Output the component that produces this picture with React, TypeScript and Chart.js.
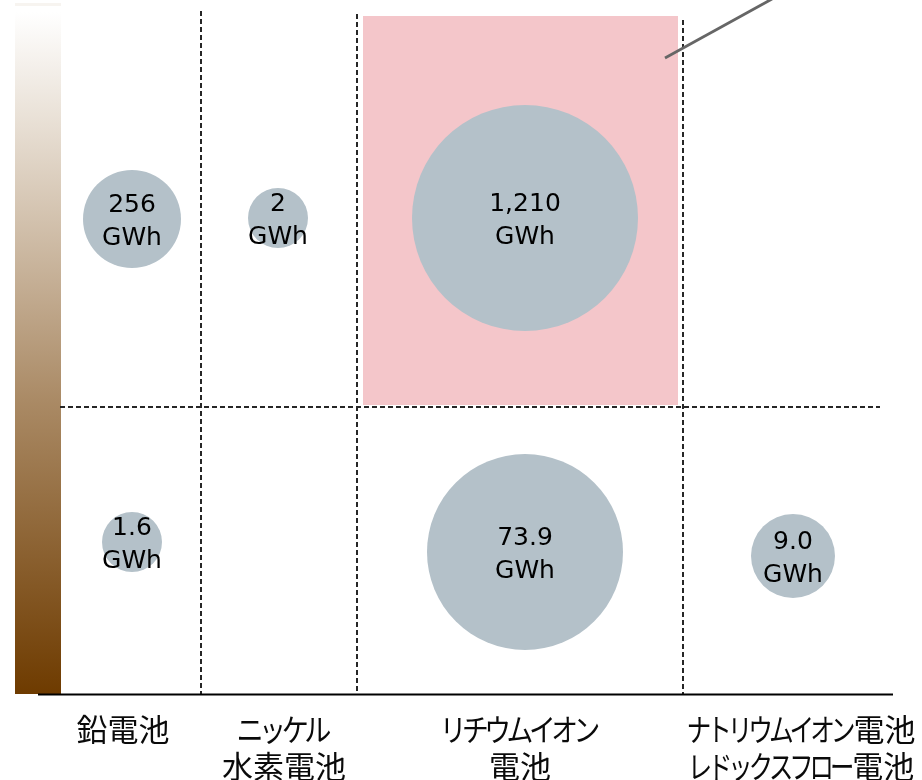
import React, { useEffect, useRef } from "react";
import { Chart, registerables } from "chart.js";

Chart.register(...registerables);

// ---- data ----
const categories: string[][] = [
  ["鉛電池"],
  ["ニッケル", "水素電池"],
  ["リチウムイオン", "電池"],
  ["ナトリウムイオン電池", "レドックスフロー電池"],
];
const upperValues: (number | null)[] = [256, 2, 1210, null];
const upperLabels: (string | null)[] = ["256", "2", "1,210", null];
const lowerValues: (number | null)[] = [1.6, null, 73.9, 9.0];
const lowerLabels: (string | null)[] = ["1.6", null, "73.9", "9.0"];
const unit = "GWh";

// ---- layout (scale units == canvas px) ----
const W = 922;
const H = 780;
const BUBBLE_X = [132, 278, 525, 793];
const UPPER_Y = [219, 218, 218, 218];
const LOWER_Y = [542, 550, 552, 556];
const UPPER_R = [49, 30, 113, 0];
const LOWER_R = [30, 0, 98, 42];
const V_DIVIDERS = [
  { x: 201, y0: 11 },
  { x: 357, y0: 14 },
  { x: 683, y0: 20 },
];
const H_DIVIDER = { y: 407, x0: 60, x1: 880 };
const AXIS = { y: 694.5, x0: 38, x1: 893 };
const BAR = { x0: 15, x1: 61, y0: 12, y1: 694 };
const HIGHLIGHT = { x0: 363, x1: 678, y0: 16, y1: 405 };
const POINTER = { x0: 665, y0: 58, x1: 772, y1: -1 };
const LABEL_X = [123, 284, 520, 802];
const LABEL_Y = [729, 766];
const KANA_FACTOR = [
  [1],
  [0.73, 1],
  [0.72, 1],
  [0.665, 0.655],
];

function drawJP(ctx: CanvasRenderingContext2D, text: string, cx: number, cy: number, size: number, kf: number) {
  const chars = Array.from(text);
  const isKana = (c: string) => /[\u30A0-\u30FF]/.test(c);
  const adv = chars.map((c) => (isKana(c) ? size * kf : size));
  const total = adv.reduce((a, b) => a + b, 0);
  let x = cx - total / 2;
  ctx.textAlign = "center";
  chars.forEach((c, i) => {
    const mid = x + adv[i] / 2;
    if (isKana(c)) {
      ctx.save();
      ctx.translate(mid, cy);
      ctx.scale(Math.min(1, kf * 1.2), 1);
      ctx.fillText(c, 0, 0);
      ctx.restore();
    } else {
      ctx.fillText(c, mid, cy);
    }
    x += adv[i];
  });
}

const decorPlugin = {
  id: "decor",
  beforeDatasetsDraw(chart: any) {
    const ctx: CanvasRenderingContext2D = chart.ctx;
    const xs = chart.scales.x;
    const ys = chart.scales.y;
    const px = (v: number) => xs.getPixelForValue(v);
    const py = (v: number) => ys.getPixelForValue(v);
    ctx.save();
    ctx.fillStyle = "#f7f4f0";
    ctx.fillRect(px(BAR.x0), py(3), px(BAR.x1) - px(BAR.x0), 3);
    const g = ctx.createLinearGradient(0, py(BAR.y0), 0, py(BAR.y1));
    g.addColorStop(0, "#ffffff");
    g.addColorStop(0.15, "#eae2d8");
    g.addColorStop(0.57, "#aa8a65");
    g.addColorStop(1, "#6e3b00");
    ctx.fillStyle = g;
    ctx.fillRect(px(BAR.x0), py(BAR.y0), px(BAR.x1) - px(BAR.x0), py(BAR.y1) - py(BAR.y0));
    ctx.fillStyle = "#f4c6ca";
    ctx.fillRect(px(HIGHLIGHT.x0), py(HIGHLIGHT.y0), px(HIGHLIGHT.x1) - px(HIGHLIGHT.x0), py(HIGHLIGHT.y1) - py(HIGHLIGHT.y0));
    ctx.strokeStyle = "#262626";
    ctx.lineWidth = 2;
    ctx.setLineDash([5, 3]);
    V_DIVIDERS.forEach((d) => {
      ctx.beginPath();
      ctx.moveTo(px(d.x), py(d.y0));
      ctx.lineTo(px(d.x), py(AXIS.y));
      ctx.stroke();
    });
    ctx.beginPath();
    ctx.moveTo(px(H_DIVIDER.x0), py(H_DIVIDER.y));
    ctx.lineTo(px(H_DIVIDER.x1), py(H_DIVIDER.y));
    ctx.stroke();
    ctx.setLineDash([]);
    ctx.strokeStyle = "#000000";
    ctx.lineWidth = 2;
    ctx.beginPath();
    ctx.moveTo(px(AXIS.x0), py(AXIS.y));
    ctx.lineTo(px(AXIS.x1), py(AXIS.y));
    ctx.stroke();
    ctx.strokeStyle = "#666666";
    ctx.lineWidth = 2.8;
    ctx.beginPath();
    ctx.moveTo(px(POINTER.x0), py(POINTER.y0));
    ctx.lineTo(px(POINTER.x1), py(POINTER.y1));
    ctx.stroke();
    ctx.restore();
  },
  afterDatasetsDraw(chart: any) {
    const ctx: CanvasRenderingContext2D = chart.ctx;
    const meta = chart.getDatasetMeta(0);
    const ds = chart.data.datasets[0] as any;
    ctx.save();
    ctx.fillStyle = "#000000";
    ctx.font = '25px "DejaVu Sans", Verdana, sans-serif';
    ctx.textAlign = "center";
    ctx.textBaseline = "middle";
    meta.data.forEach((el: any, i: number) => {
      const lbl = ds.data[i].label;
      ctx.fillText(lbl, el.x, el.y - 14);
      ctx.fillText(unit, el.x, el.y + 19);
    });
    const xs = chart.scales.x;
    const ys = chart.scales.y;
    ctx.font = '31px "Noto Sans CJK JP", sans-serif';
    ctx.fillStyle = "#0a0a0a";
    ctx.textBaseline = "middle";
    categories.forEach((lines, ci) => {
      lines.forEach((line, li) => {
        drawJP(ctx, line, xs.getPixelForValue(LABEL_X[ci]), ys.getPixelForValue(LABEL_Y[li]), 31, KANA_FACTOR[ci][li]);
      });
    });
    ctx.restore();
  },
};

export default function App() {
  const ref = useRef<HTMLCanvasElement>(null);
  useEffect(() => {
    if (!ref.current) return;
    const points: any[] = [];
    upperValues.forEach((v, i) => {
      if (v !== null) points.push({ x: BUBBLE_X[i], y: UPPER_Y[i], r: UPPER_R[i], value: v, label: upperLabels[i] });
    });
    lowerValues.forEach((v, i) => {
      if (v !== null) points.push({ x: BUBBLE_X[i], y: LOWER_Y[i], r: LOWER_R[i], value: v, label: lowerLabels[i] });
    });
    const chart = new Chart(ref.current, {
      type: "bubble",
      data: {
        datasets: [
          {
            data: points,
            backgroundColor: "#b4c1c9",
            borderWidth: 0,
            hoverBorderWidth: 0,
            clip: false,
          } as any,
        ],
      },
      options: {
        animation: false,
        responsive: false,
        devicePixelRatio: 1,
        events: [],
        layout: { padding: 0, autoPadding: false } as any,
        plugins: { legend: { display: false }, tooltip: { enabled: false } },
        scales: {
          x: { type: "linear", min: 0, max: W, display: false },
          y: { type: "linear", min: 0, max: H, reverse: true, display: false },
        },
      },
      plugins: [decorPlugin],
    });
    return () => chart.destroy();
  }, []);
  return (
    <div style={{ position: "absolute", left: 0, top: 0, width: W, height: H, background: "#ffffff" }}>
      <canvas ref={ref} width={W} height={H} style={{ display: "block" }} />
    </div>
  );
}
